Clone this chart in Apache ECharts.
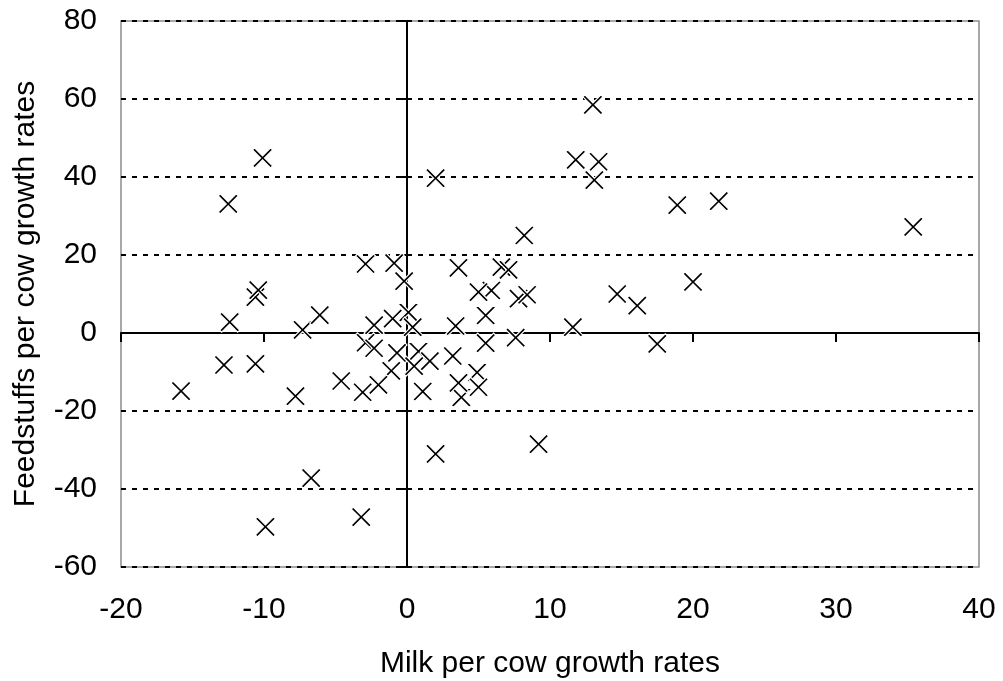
<!DOCTYPE html>
<html>
<head>
<meta charset="utf-8">
<script src="https://cdn.jsdelivr.net/npm/echarts@6/dist/echarts.min.js"></script>
<style>
html,body{margin:0;padding:0;background:#fff;}
#chart{width:1003px;height:681px;}
</style>
</head>
<body>
<div id="chart"></div>
<script>
const milkGrowth = [
  -10.1, -12.5, -10.6, -10.4, -12.4, -7.3, -6.1, -2.9, -0.9, -0.2, -12.8, -10.6, -15.8, -7.8, -6.7, -9.9, -3.2,
  -2.3, -1.0, 0.1, 0.4, 3.4, -2.9, -2.3, -0.7, 0.8, 1.6, 3.2, -1.1, 0.5, 4.9, 5.0, -4.6, -3.1, -2.0, 1.1,
  3.8, 3.6, 2.0, 9.2, 5.5, 7.6, 3.6, 6.6, 7.1, 8.2, 5.9, 5.0, 7.8, 8.4, 5.5, 2.0,
  13.0, 11.8, 13.4, 13.1, 18.9, 21.8, 35.4, 14.7, 16.1, 20.0, 11.6, 17.5
];
const feedGrowth = [
  44.9, 33.1, 9.2, 11.0, 2.8, 0.8, 4.6, 17.7, 17.9, 13.3, -8.2, -7.9, -14.9, -16.2, -37.2, -49.7, -47.2,
  2.0, 3.7, 5.3, 1.5, 1.8, -2.5, -3.9, -5.1, -4.7, -7.2, -5.9, -9.7, -8.5, -10.1, -13.9, -12.3, -15.2, -13.3, -15.0,
  -16.5, -12.8, -31.0, -28.5, -2.6, -1.2, 16.7, 16.9, 16.2, 25.0, 10.9, 10.5, 8.8, 9.8, 4.5, 39.7,
  58.5, 44.4, 43.9, 39.2, 32.8, 33.8, 27.2, 10.0, 7.0, 13.1, 1.5, -2.8
];
const xTitle = 'Milk per cow growth rates';
const yTitle = 'Feedstuffs per cow growth rates';

const points = milkGrowth.map((x, i) => [x, feedGrowth[i]]);
const font = 'Liberation Sans, Arial, sans-serif';
const xPath = 'path://M0 10 L10 0 L50 40 L90 0 L100 10 L60 50 L100 90 L90 100 L50 60 L10 100 L0 90 L40 50 Z';

const chart = echarts.init(document.getElementById('chart'), null, {renderer: 'canvas'});
chart.setOption({
  animation: false,
  backgroundColor: '#fff',
  grid: {left: 121, top: 21, right: 24, bottom: 114, containLabel: false, outerBoundsMode: 'none',
         show: true, borderColor: '#8c8c8c', borderWidth: 1.5, backgroundColor: '#fff'},
  xAxis: [
    {
      type: 'value', min: -20, max: 40, interval: 10, position: 'bottom',
      axisLine: {show: false, onZero: false}, axisTick: {show: false},
      axisLabel: {fontSize: 30, color: '#000', margin: 28, fontFamily: font},
      splitLine: {show: false},
      name: xTitle, nameLocation: 'middle', nameGap: 82,
      nameTextStyle: {fontSize: 30, color: '#000', fontFamily: font}
    },
    {
      type: 'value', min: -20, max: 40, interval: 10, position: 'top',
      axisLine: {show: true, onZero: true, onZeroAxisIndex: 0, lineStyle: {color: '#000', width: 2}},
      axisTick: {show: true, inside: true, length: 9, lineStyle: {color: '#000', width: 2}},
      axisLabel: {show: false}, splitLine: {show: false}
    }
  ],
  yAxis: [
    {
      type: 'value', min: -60, max: 80, interval: 20, position: 'left',
      axisLine: {show: false, onZero: false}, axisTick: {show: false},
      axisLabel: {fontSize: 30, color: '#000', margin: 24, fontFamily: font},
      splitLine: {show: true, lineStyle: {color: '#000', width: 2, type: [5, 6]}},
      name: yTitle, nameLocation: 'middle', nameGap: 80, nameRotate: 90,
      nameTextStyle: {fontSize: 30, color: '#000', fontFamily: font}
    },
    {
      type: 'value', min: -60, max: 80, interval: 20, position: 'right',
      axisLine: {show: true, onZero: true, onZeroAxisIndex: 0, lineStyle: {color: '#000', width: 2}},
      axisTick: {show: true, inside: true, length: 9, lineStyle: {color: '#000', width: 2}},
      axisLabel: {show: false}, splitLine: {show: false}
    }
  ],
  series: [{
    type: 'scatter',
    xAxisIndex: 0, yAxisIndex: 0,
    data: points,
    symbol: xPath,
    symbolSize: 20,
    itemStyle: {color: '#000', borderColor: '#fff', borderWidth: 1.2, opacity: 1},
    z: 5
  }]
});
</script>
</body>
</html>
